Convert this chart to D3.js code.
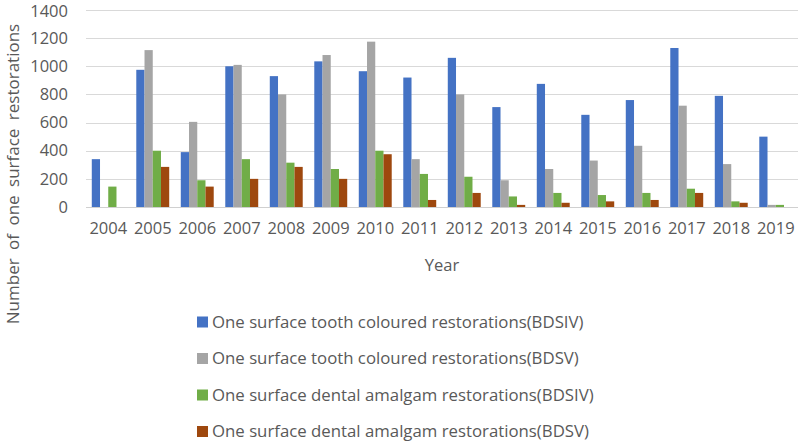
<!DOCTYPE html>
<html lang="en">
<head>
  <meta charset="UTF-8">
  <title>One surface restorations</title>
  <style>
    body, html {
      margin: 0;
      padding: 0;
      background: #fff;
      font-family: "Open Sans", sans-serif;
    }
    svg text {
      fill: #595959;
    }
  </style>
</head>
<body>
  <svg id="svg" width="799" height="443"></svg>

  <script src="https://cdn.jsdelivr.net/npm/d3@7"></script>
  <script>
    const years = ['2004', '2005', '2006', '2007', '2008', '2009', '2010', '2011',
                   '2012', '2013', '2014', '2015', '2016', '2017', '2018', '2019'];
    const seriesNames = [
      'One surface tooth coloured restorations(BDSIV)',
      'One surface tooth coloured restorations(BDSV)',
      'One surface dental amalgam restorations(BDSIV)',
      'One surface dental amalgam restorations(BDSV)'
    ];
    const toothBDSIV   = [340, 975, 390, 1000, 930, 1035, 965, 920, 1060, 710, 875, 655, 760, 1130, 790, 500];
    const toothBDSV    = [0, 1115, 605, 1010, 800, 1080, 1175, 340, 800, 190, 270, 330, 435, 720, 305, 15];
    const amalgamBDSIV = [145, 400, 190, 340, 315, 270, 400, 235, 215, 75, 100, 85, 100, 130, 40, 15];
    const amalgamBDSV  = [0, 285, 145, 200, 285, 200, 375, 50, 100, 15, 30, 40, 50, 100, 30, 0];
    const yTicks = [0, 200, 400, 600, 800, 1000, 1200, 1400];

    const seriesValues = [toothBDSIV, toothBDSV, amalgamBDSIV, amalgamBDSV];
    const colors = ['#4472C4', '#A5A5A5', '#70AD47', '#9E480E'];

    const plot = { left: 86, right: 798, top: 10, bottom: 207 };
    const svg = d3.select('#svg');

    const x0 = d3.scaleBand()
      .domain(years)
      .range([plot.left, plot.right])
      .paddingInner(0.26)
      .paddingOuter(0.13);

    const x1 = d3.scaleBand()
      .domain(d3.range(seriesNames.length))
      .range([0, x0.bandwidth()]);

    const y = d3.scaleLinear()
      .domain([0, 1400])
      .range([plot.bottom, plot.top]);

    // gridlines
    svg.append('g')
      .selectAll('line')
      .data(yTicks)
      .enter()
      .append('line')
      .attr('x1', plot.left)
      .attr('x2', plot.right)
      .attr('y1', d => Math.round(y(d)) + 0.5)
      .attr('y2', d => Math.round(y(d)) + 0.5)
      .attr('stroke', d => d === 0 ? '#d0d0d0' : '#d9d9d9')
      .attr('stroke-width', 1);

    // bars
    const groups = svg.append('g')
      .selectAll('g')
      .data(years)
      .enter()
      .append('g')
      .attr('transform', d => `translate(${x0(d)},0)`);

    groups.selectAll('rect')
      .data((d, i) => seriesValues.map((vals, s) => ({ s, v: vals[i] })))
      .enter()
      .append('rect')
      .attr('x', d => x1(d.s))
      .attr('y', d => y(d.v))
      .attr('width', x1.bandwidth())
      .attr('height', d => y(0) - y(d.v))
      .attr('fill', d => colors[d.s]);

    // y axis
    const yAxis = svg.append('g')
      .attr('transform', `translate(${plot.left},0)`)
      .call(d3.axisLeft(y).tickValues(yTicks).tickFormat(d3.format('d')).tickSize(0).tickPadding(18));
    yAxis.select('.domain').remove();
    yAxis.selectAll('text')
      .style('font-family', '"Open Sans", sans-serif')
      .style('font-size', '16.5px')
      .attr('fill', '#595959');
    // keep the top label inside the picture
    yAxis.selectAll('.tick').filter(d => d === 1400).select('text').attr('dy', '0.42em');

    // x axis
    const xAxis = svg.append('g')
      .attr('transform', `translate(0,${plot.bottom})`)
      .call(d3.axisBottom(x0).tickSize(0).tickPadding(15));
    xAxis.select('.domain').remove();
    xAxis.selectAll('text')
      .style('font-family', '"Open Sans", sans-serif')
      .style('font-size', '16.5px')
      .attr('fill', '#595959');

    // axis titles
    svg.append('text')
      .attr('x', (plot.left + plot.right) / 2)
      .attr('y', 271)
      .attr('text-anchor', 'middle')
      .style('font-size', '16.5px')
      .text('Year');

    svg.append('text')
      .attr('transform', 'rotate(-90)')
      .attr('x', -174)
      .attr('y', 19)
      .attr('text-anchor', 'middle')
      .style('font-size', '17px')
      .style('word-spacing', '4px')
      .text('Number of one surface restorations');

    // legend
    const legend = svg.append('g')
      .selectAll('g')
      .data(seriesNames)
      .enter()
      .append('g')
      .attr('transform', (d, i) => `translate(197,${322 + i * 36.5})`);

    legend.append('rect')
      .attr('x', 0)
      .attr('y', -5.5)
      .attr('width', 11)
      .attr('height', 11)
      .attr('fill', (d, i) => colors[i]);

    legend.append('text')
      .attr('x', 15)
      .attr('y', 0)
      .attr('dy', '0.35em')
      .style('font-size', '16.8px')
      .text(d => d);
  </script>
</body>
</html>
